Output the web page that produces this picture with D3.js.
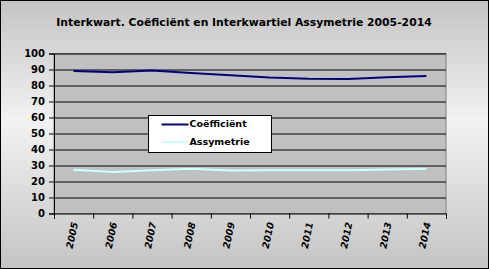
<!DOCTYPE html>
<html>
<head>
<meta charset="utf-8">
<script src="https://cdn.jsdelivr.net/npm/d3@7"></script>
<style>
  body { margin: 0; }
  text { font-family: "DejaVu Sans", Verdana, sans-serif; font-weight: bold; }
</style>
</head>
<body>
<div id="chart"></div>
<script>
// data
const years = ["2005", "2006", "2007", "2008", "2009", "2010", "2011", "2012", "2013", "2014"];
const coefficient = [89, 88.3, 89.3, 87.8, 86.4, 85, 84.2, 84.1, 85.1, 86];
const asymmetry = [27.3, 26, 27, 27.9, 26.9, 27, 27, 27, 27.5, 28];
const yTicks = [0, 10, 20, 30, 40, 50, 60, 70, 80, 90, 100];

const width = 489, height = 269;
const margin = {top: 53.5, right: 43, bottom: 55.5, left: 54};
const visWidth = width - margin.left - margin.right;
const visHeight = height - margin.top - margin.bottom;

const svg = d3.select("#chart").append("svg")
    .attr("width", width)
    .attr("height", height);

// background gradient
const grad = svg.append("defs").append("linearGradient")
    .attr("id", "bg")
    .attr("x1", 0).attr("y1", 0).attr("x2", 0).attr("y2", 1);
grad.append("stop").attr("offset", "0%").attr("stop-color", "#c4c4c4");
grad.append("stop").attr("offset", "45%").attr("stop-color", "#f2f2f2");
grad.append("stop").attr("offset", "100%").attr("stop-color", "#c4c4c4");

svg.append("rect")
    .attr("x", 0.5).attr("y", 0.5)
    .attr("width", width - 1).attr("height", height - 1)
    .attr("fill", "url(#bg)")
    .attr("stroke", "black");

// title
svg.append("text")
    .attr("x", 244)
    .attr("y", 26)
    .attr("text-anchor", "middle")
    .attr("font-size", "10.8px")
    .text("Interkwart. Coëficiënt en Interkwartiel Assymetrie 2005-2014");

const g = svg.append("g")
    .attr("transform", `translate(${margin.left}, ${margin.top})`);

// scales
const x = d3.scaleBand()
    .domain(years)
    .range([0, visWidth]);

const y = d3.scaleLinear()
    .domain([0, 100])
    .range([visHeight, 0]);

// plot area
g.append("rect")
    .attr("width", visWidth)
    .attr("height", visHeight)
    .attr("fill", "#c0c0c0")
    .attr("stroke", "#808080");

// gridlines
g.append("g")
    .selectAll("line")
    .data(yTicks.filter(d => d > 0))
    .join("line")
      .attr("x1", 0)
      .attr("x2", visWidth)
      .attr("y1", d => Math.round(y(d)) + 0.5)
      .attr("y2", d => Math.round(y(d)) + 0.5)
      .attr("stroke", "black");

// axes
const yAxis = d3.axisLeft(y).tickValues(yTicks).tickSize(5).tickPadding(4);
g.append("g")
    .call(yAxis)
    .call(g => g.select(".domain").attr("stroke", "black"))
    .call(g => g.selectAll("text").attr("font-size", "10px").attr("font-family", null).attr("fill", "black"));

const xAxis = d3.axisBottom(d3.scaleLinear().domain([0, years.length]).range([0, visWidth]))
    .ticks(years.length)
    .tickSize(5)
    .tickFormat("");
g.append("g")
    .attr("transform", `translate(0, ${visHeight})`)
    .call(xAxis);

// rotated year labels
g.append("g")
    .selectAll("text")
    .data(years)
    .join("text")
      .attr("transform", d => `translate(${x(d) + x.bandwidth() / 2 + 2}, ${visHeight + 9}) rotate(-78)`)
      .attr("text-anchor", "end")
      .attr("dominant-baseline", "middle")
      .attr("font-size", "9.5px")
      .attr("font-style", "italic")
      .text(d => d);

// lines
const line = d3.line()
    .x((d, i) => x(years[i]) + x.bandwidth() / 2)
    .y(d => y(d));

g.append("path")
    .datum(asymmetry)
    .attr("fill", "none")
    .attr("stroke", "#ccffff")
    .attr("stroke-width", 2)
    .attr("d", line);

g.append("path")
    .datum(coefficient)
    .attr("fill", "none")
    .attr("stroke", "#000080")
    .attr("stroke-width", 2)
    .attr("d", line);

// legend
const legend = svg.append("g")
    .attr("transform", "translate(148.5, 115.5)");

legend.append("rect")
    .attr("width", 123)
    .attr("height", 37)
    .attr("fill", "white")
    .attr("stroke", "black");

const items = legend.selectAll("g.item")
    .data([["Coëfficiënt", "#000080"], ["Assymetrie", "#ccffff"]])
    .join("g")
      .attr("class", "item")
      .attr("transform", (d, i) => `translate(0, ${9 + i * 17.5})`);

items.append("line")
    .attr("x1", 13).attr("x2", 40)
    .attr("stroke", d => d[1])
    .attr("stroke-width", 2);

items.append("text")
    .attr("x", 41)
    .attr("dominant-baseline", "middle")
    .attr("font-size", "9.5px")
    .text(d => d[0]);
</script>
</body>
</html>
